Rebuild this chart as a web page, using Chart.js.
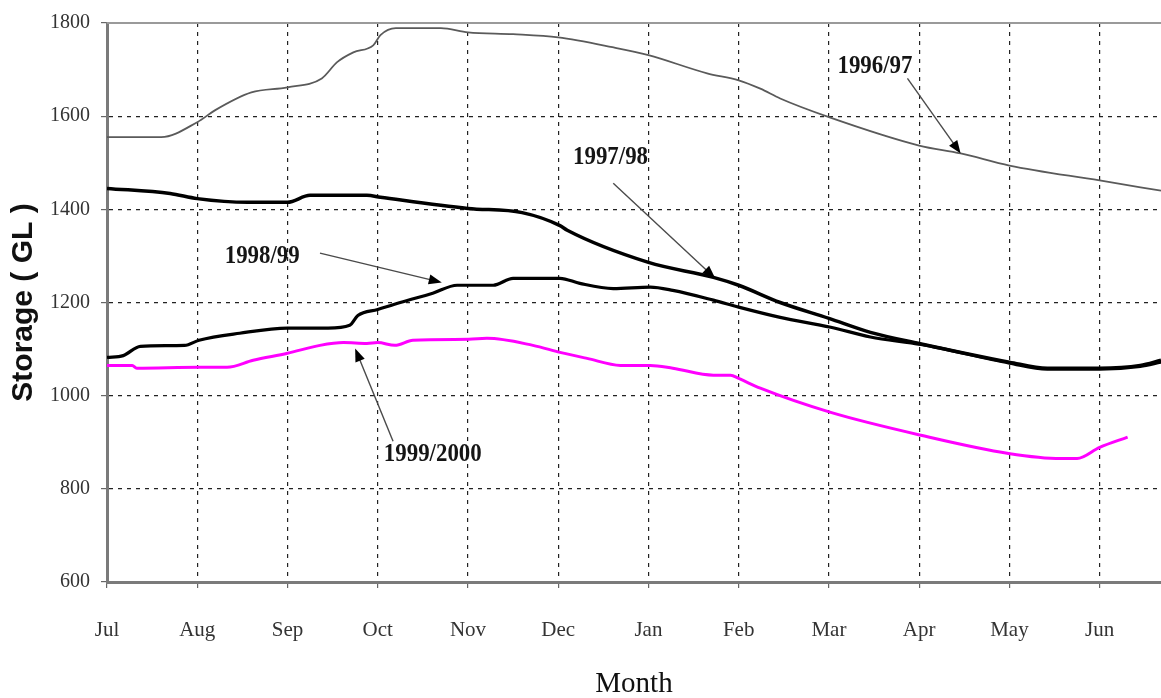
<!DOCTYPE html>
<html><head><meta charset="utf-8">
<script src="https://cdn.jsdelivr.net/npm/chart.js@4"></script>
<style>html,body{margin:0;padding:0;background:#fff}#wrap{width:1161px;height:698px;position:relative}</style>
</head><body><div id="wrap"><canvas id="c"></canvas></div>
<script>
const MONTHS = ['Jul','Aug','Sep','Oct','Nov','Dec','Jan','Feb','Mar','Apr','May','Jun'];

// x = months since 1 Jul, y = storage (GL)
const X_9697 = [0,0.6,1.0,1.2,1.6,2.0,2.38,2.55,2.73,2.95,3.03,3.2,3.7,4.0,4.5,5.0,5.6,6.0,6.65,7.0,7.24,7.46,8.0,9.0,9.46,10.0,11.0,11.68];
const Y_9697 = [1555,1555,1587,1613,1651,1662,1681,1716,1737,1752,1774,1789,1789,1780,1776,1769,1748,1731,1692,1677,1659,1638,1598,1537,1520,1494,1462,1440];
const X_9798 = [0,0.7,1.0,1.56,2.0,2.25,2.88,3.03,4.0,4.6,5.02,5.1,6.0,6.72,7.0,7.46,8.0,8.46,9.0,10.0,10.42,11.0,11.45,11.68];
const Y_9798 = [1445,1434,1423,1415,1415,1430,1430,1426,1402,1393,1365,1355,1286,1254,1237,1200,1166,1136,1112,1072,1059,1059,1065,1076];
const X_9899 = [0,0.18,0.37,0.86,1.02,1.47,2.0,2.45,2.69,2.78,3.0,3.25,3.61,3.88,4.28,4.5,5.02,5.24,5.61,6.02,6.27,6.72,7.0,7.46,8.02,8.46,9.02,10.0,10.42,11.0,11.45,11.68];
const Y_9899 = [1082,1086,1106,1108,1119,1134,1145,1145,1151,1172,1185,1200,1220,1237,1237,1252,1252,1241,1230,1233,1226,1205,1190,1168,1147,1126,1110,1070,1057,1057,1063,1072];
const X_9900 = [0,0.28,0.33,1.02,1.33,1.62,2.0,2.36,2.62,2.88,3.0,3.19,3.39,4.01,4.21,4.72,5.02,5.32,5.69,6.02,6.27,6.72,6.91,7.0,7.24,8.02,9.02,9.99,10.57,10.75,11.0,11.31];
const Y_9900 = [1065,1065,1059,1061,1061,1076,1091,1108,1114,1112,1114,1108,1119,1121,1123,1108,1093,1080,1065,1065,1059,1044,1044,1037,1016,964,915,876,865,865,889,911];

// callouts: label, text centre, arrow tail, arrow tip (data units)
const NOTE_TEXT = ['1996/97','1997/98','1998/99','1999/2000'];
const NOTE_X = [8.51,5.58,1.72,3.61];
const NOTE_Y = [1707,1512,1299,874];
const TAIL_X = [8.87,5.61,2.36,3.17];
const TAIL_Y = [1681,1456,1306,902];
const TIP_X = [9.46,6.74,3.71,2.75];
const TIP_Y = [1520,1252,1243,1101];

const pts=(xs,ys)=>xs.map((x,i)=>({x,y:ys[i]}));
const SERIF='"Liberation Serif", "DejaVu Serif", serif';

const notes={id:'notes',
  afterDatasetsDraw(ch){
    const {ctx,chartArea:a,scales:{x,y}}=ch;
    ctx.save();
    ctx.strokeStyle='#9a9a9a'; ctx.lineWidth=2;
    ctx.beginPath(); ctx.moveTo(a.left,a.top); ctx.lineTo(a.right,a.top); ctx.stroke();
    NOTE_TEXT.forEach((t,i)=>{
      const x0=x.getPixelForValue(TAIL_X[i]), y0=y.getPixelForValue(TAIL_Y[i]);
      const x1=x.getPixelForValue(TIP_X[i]), y1=y.getPixelForValue(TIP_Y[i]);
      const ang=Math.atan2(y1-y0,x1-x0), L=13, W=5;
      ctx.strokeStyle='#4a4a4a'; ctx.lineWidth=1.4;
      ctx.beginPath(); ctx.moveTo(x0,y0); ctx.lineTo(x1-Math.cos(ang)*L*0.6,y1-Math.sin(ang)*L*0.6); ctx.stroke();
      ctx.fillStyle='#000';
      ctx.beginPath(); ctx.moveTo(x1,y1);
      ctx.lineTo(x1-Math.cos(ang)*L-Math.sin(ang)*W, y1-Math.sin(ang)*L+Math.cos(ang)*W);
      ctx.lineTo(x1-Math.cos(ang)*L+Math.sin(ang)*W, y1-Math.sin(ang)*L-Math.cos(ang)*W);
      ctx.closePath(); ctx.fill();
      // condensed look of the original labels
      ctx.save();
      ctx.translate(x.getPixelForValue(NOTE_X[i]),y.getPixelForValue(NOTE_Y[i]));
      ctx.scale(0.88,1);
      ctx.font='bold 26px '+SERIF; ctx.fillStyle='#151515';
      ctx.textAlign='center'; ctx.textBaseline='middle';
      ctx.fillText(t,0,0);
      ctx.restore();
    });
    ctx.restore();
  }};

const ds=(label,xs,ys,color,w)=>({label,data:pts(xs,ys),borderColor:color,borderWidth:w,pointRadius:0,cubicInterpolationMode:'monotone',fill:false});

new Chart(document.getElementById('c'),{type:'line',
  data:{datasets:[
    ds('1996/97',X_9697,Y_9697,'#5a5a5a',1.8),
    ds('1997/98',X_9798,Y_9798,'#000',3.5),
    ds('1998/99',X_9899,Y_9899,'#000',3.2),
    ds('1999/2000',X_9900,Y_9900,'#ff00ff',3)]},
  options:{responsive:true,maintainAspectRatio:false,animation:false,
    layout:{padding:{top:23,right:0,bottom:0,left:0}},
    plugins:{legend:{display:false},tooltip:{enabled:false}},
    scales:{
      x:{type:'linear',min:0,max:11.68,
        afterFit:s=>{s.height=116;},
        border:{display:true,color:'#7a7a7a',width:3,dash:[4,5]},
        grid:{color:'#222',lineWidth:1.2,tickLength:6,tickColor:'#666',tickBorderDash:[]},
        ticks:{stepSize:1,includeBounds:false,padding:30,color:'#333',font:{family:SERIF,size:21},
          maxRotation:0,autoSkip:false,callback:v=>MONTHS[v]||''},
        title:{display:true,text:'Month',color:'#111',font:{family:SERIF,size:29},padding:{top:0,bottom:-4}}},
      y:{min:600,max:1800,
        afterFit:s=>{s.width=107;},
        border:{display:true,color:'#7a7a7a',width:3,dash:[4,5]},
        grid:{color:'#222',lineWidth:1.2,tickLength:6,tickColor:'#666',tickBorderDash:[]},
        ticks:{stepSize:200,padding:11,color:'#333',font:{family:SERIF,size:20},callback:v=>String(v)},
        title:{display:true,text:'Storage ( GL )',color:'#111',font:{family:'"Liberation Sans", Arial, sans-serif',size:30,weight:'bold'},padding:{top:6,bottom:0}}}
    }},
  plugins:[notes]});
</script>
</body></html>
